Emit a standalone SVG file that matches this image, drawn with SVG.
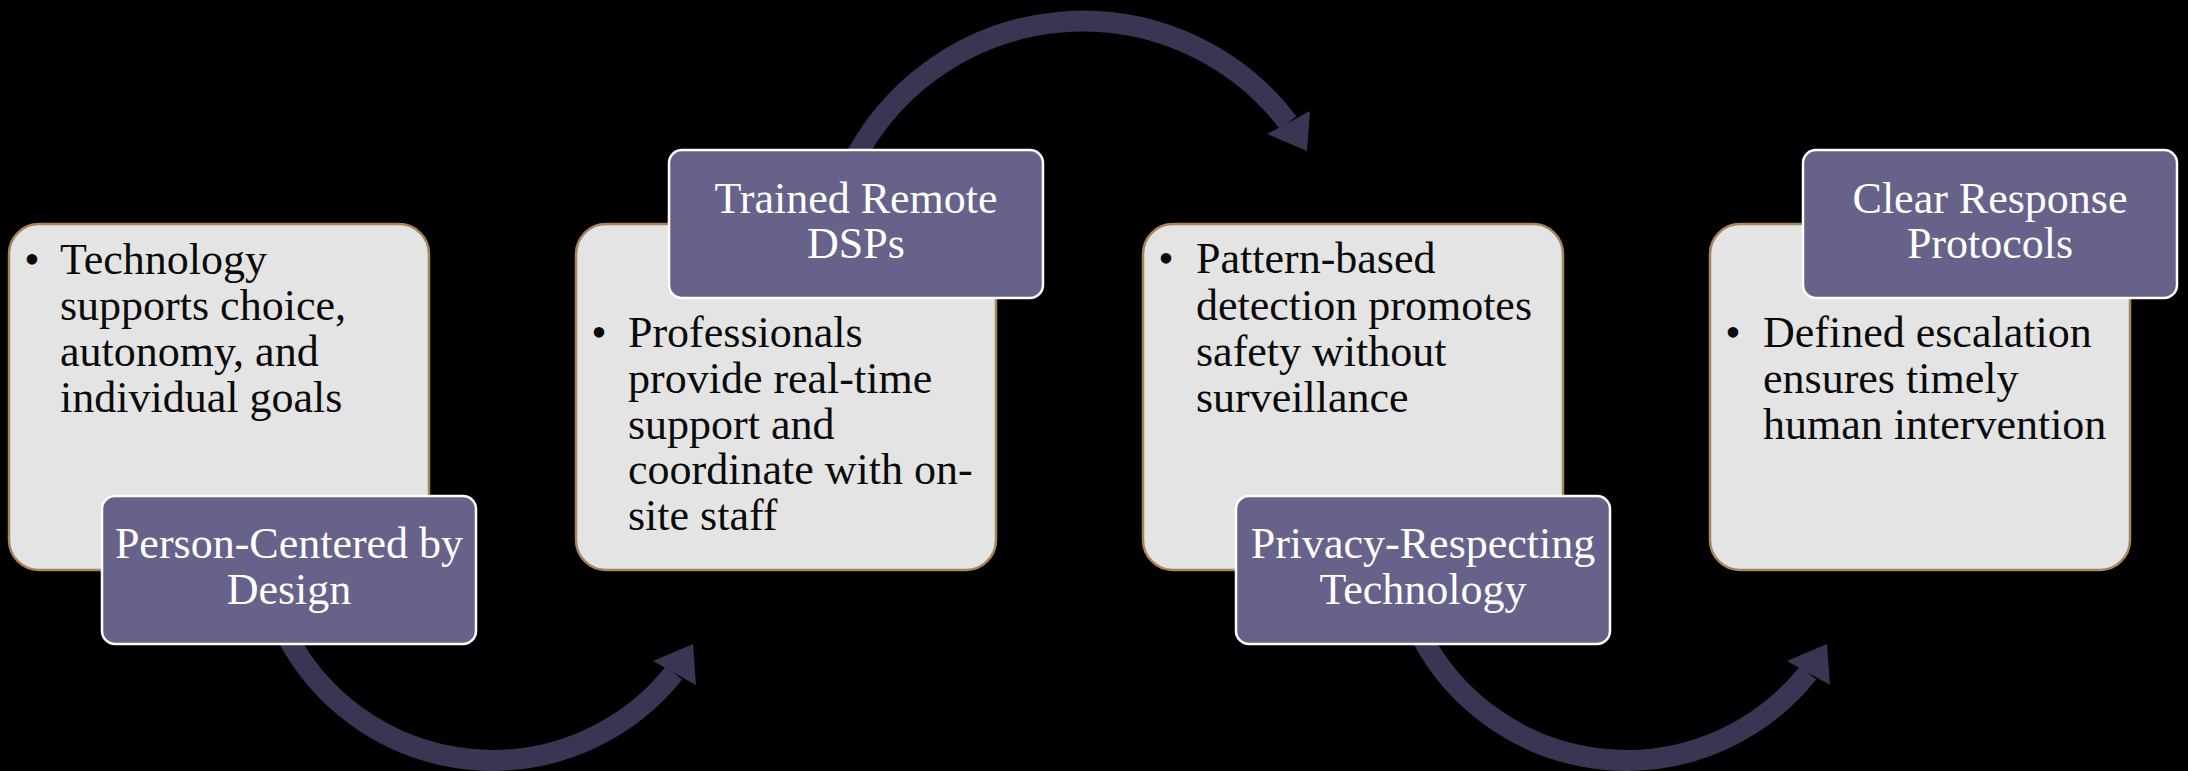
<svg xmlns="http://www.w3.org/2000/svg" width="2188" height="771" viewBox="0 0 2188 771">
<style>
.box{fill:#e4e4e4;stroke:#a8845a;stroke-width:2.5}
.lbl{fill:#67628a;stroke:#ffffff;stroke-width:2.5}
.body{font-family:"Liberation Serif","Times New Roman",serif;font-size:44px;fill:#0a0a0a}
.title{font-family:"Liberation Serif","Times New Roman",serif;font-size:44px;fill:#ffffff;text-anchor:middle}
.shaft{fill:none;stroke:#3b3553;stroke-width:21;stroke-linecap:butt}
.head{fill:#3b3553}
</style>
<rect x="0" y="0" width="2188" height="771" fill="#000000"/>
<g id="connectors">
  <path class="shaft" d="M 286.6 635 A 232 232 0 0 0 674 673"/>
  <polygon class="head" points="693,644 653,661 696,685"/>
  <path class="shaft" d="M 851.6 165 A 258 258 0 0 1 1288 122.5"/>
  <polygon class="head" points="1307,151 1267,134 1310,111"/>
  <path class="shaft" d="M 1420.6 635 A 232 232 0 0 0 1808 673"/>
  <polygon class="head" points="1827,644 1787,661 1830,685"/>
</g>
<g id="node1">
  <rect class="box" x="9" y="224" width="420" height="346" rx="30" ry="30"/>
  <text class="body" x="32" y="274" text-anchor="middle">•</text>
  <text class="body" x="60" y="274">Technology</text>
  <text class="body" x="60" y="320">supports choice,</text>
  <text class="body" x="60" y="366">autonomy, and</text>
  <text class="body" x="60" y="412">individual goals</text>
</g>
<g id="label1">
  <rect class="lbl" x="102" y="496" width="374" height="148" rx="13" ry="13"/>
  <text class="title" x="289" y="558">Person-Centered by</text>
  <text class="title" x="289" y="604">Design</text>
</g>
<g id="node2">
  <rect class="box" x="576" y="224" width="420" height="346" rx="30" ry="30"/>
  <text class="body" x="599" y="347" text-anchor="middle">•</text>
  <text class="body" x="628" y="347">Professionals</text>
  <text class="body" x="628" y="393">provide real-time</text>
  <text class="body" x="628" y="439">support and</text>
  <text class="body" x="628" y="484">coordinate with on-</text>
  <text class="body" x="628" y="530">site staff</text>
</g>
<g id="label2">
  <rect class="lbl" x="669" y="150" width="374" height="148" rx="13" ry="13"/>
  <text class="title" x="856" y="213">Trained Remote</text>
  <text class="title" x="856" y="258">DSPs</text>
</g>
<g id="node3">
  <rect class="box" x="1143" y="224" width="420" height="346" rx="30" ry="30"/>
  <text class="body" x="1166" y="273" text-anchor="middle">•</text>
  <text class="body" x="1196" y="273">Pattern-based</text>
  <text class="body" x="1196" y="320">detection promotes</text>
  <text class="body" x="1196" y="366">safety without</text>
  <text class="body" x="1196" y="412">surveillance</text>
</g>
<g id="label3">
  <rect class="lbl" x="1236" y="496" width="374" height="148" rx="13" ry="13"/>
  <text class="title" x="1423" y="558">Privacy-Respecting</text>
  <text class="title" x="1423" y="604">Technology</text>
</g>
<g id="node4">
  <rect class="box" x="1710" y="224" width="420" height="346" rx="30" ry="30"/>
  <text class="body" x="1733" y="347" text-anchor="middle">•</text>
  <text class="body" x="1763" y="347">Defined escalation</text>
  <text class="body" x="1763" y="393">ensures timely</text>
  <text class="body" x="1763" y="439">human intervention</text>
</g>
<g id="label4">
  <rect class="lbl" x="1803" y="150" width="374" height="148" rx="13" ry="13"/>
  <text class="title" x="1990" y="213">Clear Response</text>
  <text class="title" x="1990" y="258">Protocols</text>
</g>
</svg>
